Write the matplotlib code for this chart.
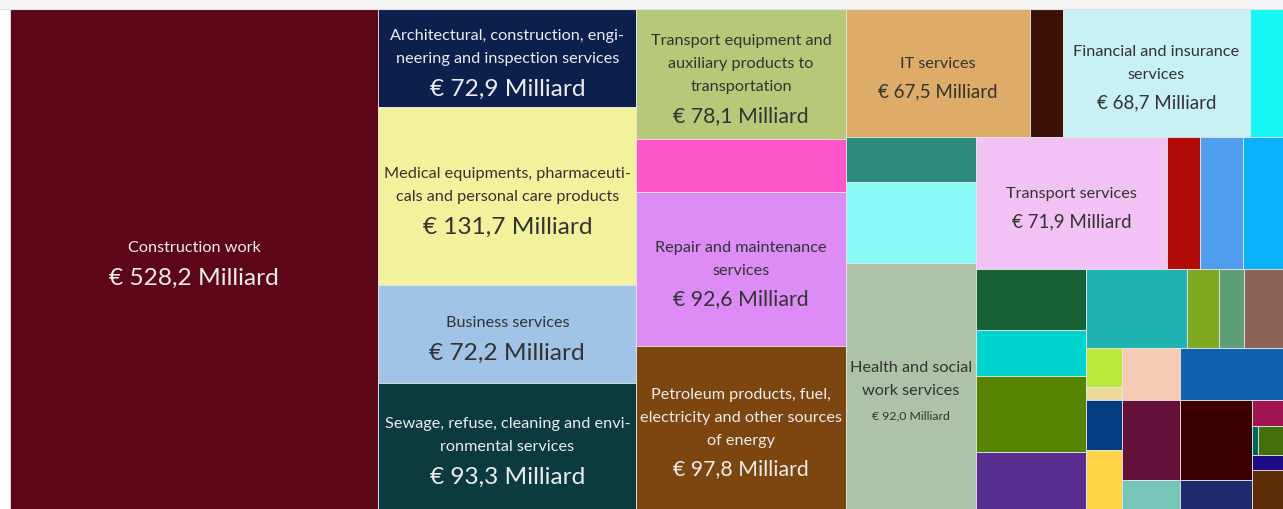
import matplotlib
matplotlib.use("Agg")
import matplotlib.pyplot as plt
from matplotlib.patches import Rectangle
from matplotlib.colors import to_rgb

# ---------------- data ----------------
names = [
    "Construction work",
    "Architectural, construction, engi-\nneering and inspection services",
    "Medical equipments, pharmaceuti-\ncals and personal care products",
    "Business services",
    "Sewage, refuse, cleaning and envi-\nronmental services",
    "Transport equipment and\nauxiliary products to\ntransportation",
    "",
    "Repair and maintenance\nservices",
    "Petroleum products, fuel,\nelectricity and other sources\nof energy",
    "IT services",
    "",
    "Financial and insurance\nservices",
    "",
    "", "",
    "Health and social\nwork services",
    "Transport services",
    "", "", "",
    "", "", "", "",
    "", "", "", "",
    "", "", "", "",
    "", "",
    "", "", "", "",
    "", "", "", "", "",
]
values = [
    528.2,
    72.9, 131.7, 72.2, 93.3,
    78.1, 31.8, 92.6, 97.8,
    67.5, 12.1, 68.7, 12.1,
    17.0, 30.3, 92.0,
    71.9, 12.5, 16.3, 15.2,
    19.3, 14.5, 24.0, 18.0,
    22.9, 7.25, 5.7, 8.85,
    4.0, 1.35, 5.2, 6.1,
    8.65, 15.4,
    13.3, 4.8, 16.5, 6.0,
    2.3, 0.5, 2.0, 1.33, 3.47,
]
colors = [
    "#5c0617",
    "#0d1f4c", "#f3f29c", "#a1c4e6", "#0b3a3f",
    "#b6c979", "#fe55c8", "#dd8cf6", "#7d450f",
    "#dfab68", "#3d1206", "#c7f1f4", "#15f7f2",
    "#2e8a7f", "#89fbf6", "#adc2a8",
    "#f2c2f4", "#b10c09", "#4f9dec", "#0bb2fa",
    "#176135", "#01d3cf", "#558500", "#572e8f",
    "#1fb3b1", "#7fa920", "#5e9e79", "#8a6357",
    "#bbe93e", "#eed99c", "#053b80", "#fdd546",
    "#f5cbb3", "#0f62ad",
    "#641039", "#76c5b9", "#3c0003", "#1e2a6e",
    "#a01451", "#00655a", "#456f0b", "#1f0c82", "#5b2c05",
]

# nesting of the treemap (indices into the lists above)
tree = ("h", [0,
              ("v", [1, 2, 3, 4]),
              ("v", [5, 6, 7, 8]),
              ("v", [("h", [9, 10, 11, 12]),
                     ("h", [("v", [13, 14, 15]),
                            ("v", [("h", [16, 17, 18, 19]),
                                   ("h", [("v", [20, 21, 22, 23]),
                                          ("v", [("h", [24, 25, 26, 27]),
                                                 ("h", [("v", [28, 29, 30, 31]),
                                                        ("v", [("h", [32, 33]),
                                                               ("h", [("v", [34, 35]),
                                                                      ("v", [36, 37]),
                                                                      ("v", [38, ("h", [39, 40]), 41, 42])])])])])])])])])])

# value label font size (px) per labelled cell
value_px = {0: 24.5, 1: 24.5, 2: 24.5, 3: 24.5, 4: 24.5, 5: 21.3, 7: 21.3, 8: 21.3,
            9: 18.8, 11: 18.8, 16: 18.8, 15: 12.2}
NAME_PX = 16.3


def total(node):
    if isinstance(node, int):
        return values[node]
    return sum(total(c) for c in node[1])


def layout(node, x, y, w, h, out):
    if isinstance(node, int):
        out[node] = (x, y, w, h)
        return
    d, children = node
    t = total(node)
    pos = 0.0
    for c in children:
        f = total(c) / t
        if d == "h":
            layout(c, x + pos * w, y, f * w, h, out)
        else:
            layout(c, x, y + pos * h, w, f * h, out)
        pos += f


W, H = 1283, 510
fig = plt.figure(figsize=(W / 100, H / 100), dpi=100)
fig.patch.set_facecolor("white")
ax = fig.add_axes([0, 0, 1, 1])
ax.set_xlim(0, W)
ax.set_ylim(H, 0)
ax.axis("off")

# top strip
ax.add_patch(Rectangle((0, 0), W, 9.5, facecolor="#f5f5f5", edgecolor="none"))
ax.plot([0, W], [9.5, 9.5], color="#e3e3e3", lw=0.8)

rects = {}
layout(tree, 10, 10, W - 10, H - 10, rects)

px2pt = 0.72
for i, (x, y, w, h) in rects.items():
    ax.add_patch(Rectangle((x, y), w, h, facecolor=colors[i],
                           edgecolor="#e6e6e6", lw=0.6))
    if not names[i]:
        continue
    r, g, b = to_rgb(colors[i])
    lum = 0.299 * r + 0.587 * g + 0.114 * b
    tc = "#333333" if lum > 0.55 else "#ececec"
    lines = names[i].split("\n")
    vp = value_px[i]
    gap = 17 + 0.65 * vp
    span = (len(lines) - 1) * 23 + gap
    cy = y + h / 2 + 7.5
    b0 = cy - span / 2 + 1
    for k, ln in enumerate(lines):
        ax.text(x + w / 2, b0 + k * 23, ln, ha="center", va="baseline",
                fontsize=NAME_PX * px2pt, color=tc, family="Lato")
    vtxt = "€ " + f"{values[i]:.1f}".replace(".", ",") + " Milliard"
    ax.text(x + w / 2, b0 + span, vtxt, ha="center", va="baseline",
            fontsize=vp * px2pt, color=tc, family="Lato")

fig.savefig("out.png", dpi=100, facecolor=fig.get_facecolor())
